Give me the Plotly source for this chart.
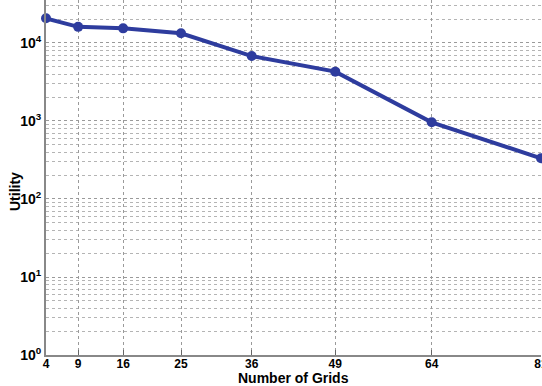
import plotly.graph_objects as go

grids = [4, 9, 16, 25, 36, 49, 64, 81]
utility = [20700, 16100, 15400, 13300, 6800, 4290, 962, 333]
x_ticks = [4, 9, 16, 25, 36, 49, 64, 81]
y_tick_vals = [1, 10, 100, 1000, 10000]
y_tick_text = ["<b>10<sup>0</sup></b>", "<b>10<sup>1</sup></b>", "<b>10<sup>2</sup></b>",
               "<b>10<sup>3</sup></b>", "<b>10<sup>4</sup></b>"]

fig = go.Figure()
fig.add_trace(go.Scatter(
    x=grids, y=utility, mode="lines+markers",
    line=dict(color="#2E3C9E", width=4),
    marker=dict(color="#2E3C9E", size=10, symbol="circle"),
    showlegend=False, cliponaxis=False,
))

W, H = 542, 386
L, R, T, B = 46, 1, 0, 31
fig.update_layout(
    width=W, height=H,
    margin=dict(l=L, r=R, t=T, b=B, autoexpand=False),
    paper_bgcolor="white", plot_bgcolor="white",
    font=dict(family="Liberation Sans, Arial, sans-serif", size=13, color="black"),
    xaxis=dict(
        range=[4, 81], tickvals=x_ticks,
        ticktext=[f"<b>{v}</b>" for v in x_ticks],
        showgrid=True, gridcolor="#9a9a9a", griddash="dot", gridwidth=1,
        showline=True, linecolor="#888888", linewidth=2,
        ticks="inside", ticklen=5, tickcolor="#666666",
        zeroline=False, tickfont=dict(size=12), automargin=False,
        ticklabeloverflow="allow", ticklabelstandoff=-3,
    ),
    yaxis=dict(
        type="log", range=[0, 4.551],
        tickvals=y_tick_vals, ticktext=y_tick_text,
        showgrid=True, gridcolor="#9a9a9a", griddash="dot", gridwidth=1,
        minor=dict(showgrid=True, gridcolor="#b4b4b4", griddash="dot", gridwidth=1,
                   tickvals=[m * 10 ** e for e in range(0, 5) for m in range(2, 10)]),
        showline=True, linecolor="#888888", linewidth=2,
        ticks="", zeroline=False, tickfont=dict(size=14), automargin=False,
        ticklabeloverflow="allow",
    ),
    annotations=[
        dict(text="<b>Number of Grids</b>", xref="paper", yref="paper",
             x=0.5, y=-(378.5 - 355) / 355, xanchor="center", yanchor="middle",
             showarrow=False, font=dict(size=14)),
        dict(text="<b>Utility</b>", xref="paper", yref="paper",
             x=-(46 - 15) / (W - L - R), y=1 - 192 / 355, xanchor="center", yanchor="middle",
             textangle=-90, showarrow=False, font=dict(size=14)),
    ],
)

fig.write_html("out.html", config={"displayModeBar": False},
               post_script="document.body.style.margin='0';document.body.style.overflow='hidden';")
